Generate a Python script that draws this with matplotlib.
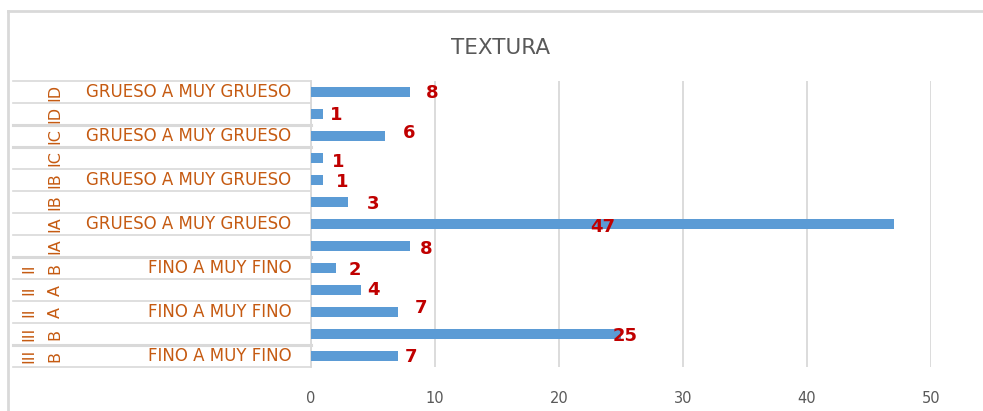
import matplotlib
matplotlib.use('Agg')
import matplotlib.pyplot as plt
from matplotlib.lines import Line2D

# Datos (de arriba a abajo)
textura = ['GRUESO A MUY GRUESO', '', 'GRUESO A MUY GRUESO', '', 'GRUESO A MUY GRUESO', '',
           'GRUESO A MUY GRUESO', '', 'FINO A MUY FINO', '', 'FINO A MUY FINO', '',
           'FINO A MUY FINO']
nivel2 = ['ID', 'ID', 'IC', 'IC', 'IB', 'IB', 'IA', 'IA', 'B', 'A', 'A', 'B', 'B']
nivel3 = ['', '', '', '', '', '', '', '', 'II', 'II', 'II', 'III', 'III']
valores = [8, 1, 6, 1, 1, 3, 47, 8, 2, 4, 7, 25, 7]
ticks_x = [0, 10, 20, 30, 40, 50]

# Posición de las etiquetas de datos (desplazadas a mano en el original)
lab_dx = [1.8, 1.0, 1.9, 1.2, 1.5, 2.0, -23.5, 1.3, 1.5, 1.0, 1.9, 0.3, 1.1]
lab_dy = [1.5, 1.5, -3, 4, 2, 1.5, 2.5, 3, 1.5, 0, -4, 2, 0.5]   # px hacia abajo
separadores_gruesos = [1.5, 2.5, 7.5, 11.5]

AZUL, NARANJA, ROJO, GRIS, LINEA = '#5B9BD5', '#C55A11', '#C00000', '#595959', '#D9D9D9'
W, H = 983, 411

fig = plt.figure(figsize=(W / 100, H / 100), dpi=100)
ax = fig.add_axes([311 / W, 1 - 367 / H, 620 / W, 286 / H])

n = len(valores)
ypos = list(range(n))
ax.barh(ypos, valores, height=0.41, color=AZUL, zorder=3)
ax.set_ylim(n - 0.5, -0.5)
ax.set_xlim(0, 50)
ax.set_xticks(ticks_x)
ax.set_yticks([])
ax.tick_params(axis='x', length=0, pad=17, labelsize=10.5, labelcolor=GRIS)
ax.grid(axis='x', color=LINEA, lw=1.3, zorder=0)
for s in ['top', 'right', 'bottom']:
    ax.spines[s].set_visible(False)
ax.spines['left'].set_color(LINEA)
ax.spines['left'].set_linewidth(1.3)

for i, v in enumerate(valores):
    ax.annotate(str(v), (v + lab_dx[i], i), xytext=(0, -lab_dy[i] * 0.72),
                textcoords='offset points', ha='center', va='center',
                color=ROJO, fontsize=13, fontweight='bold', zorder=5)

# Eje de categorías multinivel
ytr = ax.get_yaxis_transform()
for k in range(n + 1):
    yb = k - 0.5
    lw = 2.2 if yb in separadores_gruesos else 1.2
    ax.plot([-0.481, 0], [yb, yb], transform=ytr, color=LINEA, lw=lw, clip_on=False)
for i in range(n):
    if textura[i]:
        ax.text(-0.032, i, textura[i], transform=ytr, ha='right', va='center',
                color=NARANJA, fontsize=12)
    ax.text(-0.413, i, nivel2[i], transform=ytr, ha='center', va='center',
            rotation=90, color=NARANJA, fontsize=11.5)
    if nivel3[i]:
        ax.text(-0.455, i, nivel3[i], transform=ytr, ha='center', va='center',
                rotation=90, color=NARANJA, fontsize=11.5)

fig.text(501 / W, 1 - 48 / H, 'TEXTURA', ha='center', va='center',
         color=GRIS, fontsize=15.5)

# Marco del gráfico
fig.add_artist(Line2D([8 / W, 1], [1 - 11 / H, 1 - 11 / H], color=LINEA, lw=2))
fig.add_artist(Line2D([8 / W, 8 / W], [1 - 11 / H, 0], color=LINEA, lw=2))

fig.savefig('out.png', dpi=100)
